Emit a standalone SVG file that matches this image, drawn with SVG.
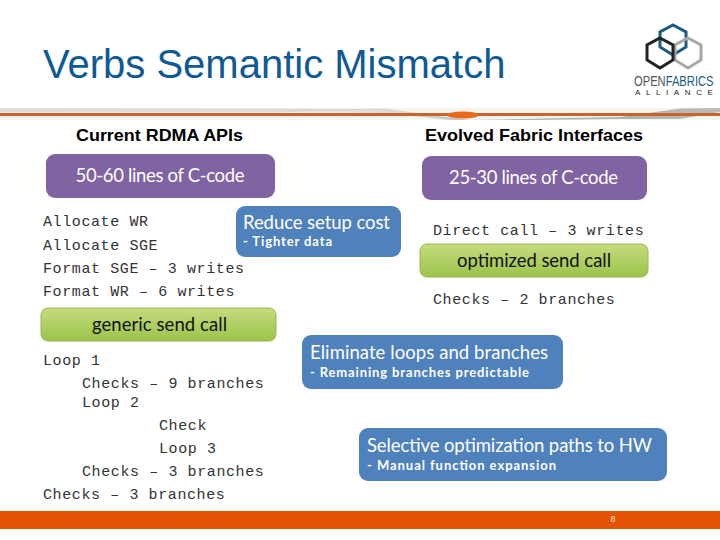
<svg xmlns="http://www.w3.org/2000/svg" width="720" height="540" viewBox="0 0 720 540">
<defs>
<linearGradient id="g" x1="0" y1="0" x2="0" y2="1"><stop offset="0" stop-color="#c4dc7e"/><stop offset="1" stop-color="#9cc34a"/></linearGradient>
<linearGradient id="b" x1="0" y1="0" x2="1" y2="0"><stop offset="0" stop-color="#c8c8c8" stop-opacity="0.1"/><stop offset="0.6" stop-color="#aaa"/><stop offset="1" stop-color="#bbb"/></linearGradient>
</defs>
<style>
.p{fill:#8064a2}.bl{fill:#4f81bd}
.gr{fill:url(#g);stroke:#9ab853;stroke-width:1}
.c{font-family:"Liberation Mono",monospace;font-size:15px;letter-spacing:.6px;fill:#333}
.s{font-family:Lato,"Noto Sans",sans-serif;fill:#fff}
.h{font-family:"Liberation Sans",Arial,sans-serif;font-size:16.500px;font-weight:bold;fill:#000}
.t{font-size:18.500px}.u{font-size:13px;font-weight:700}
.k{font-family:Lato,"Noto Sans",sans-serif;font-size:18.500px;fill:#111}
</style>
<rect width="720" height="540" fill="#fff"/>
<text x="43" y="78" font-family="Liberation Sans,Arial,sans-serif" font-size="40px" fill="#0f5a94">Verbs Semantic Mismatch</text>
<g id="logo" fill="none" stroke-width="3">
<path d="M673 25L686 32V47L673 55L660 47V32Z" stroke="#1d5c80"/>
<path d="M688 38L701 45V60L688 68L675 60V45Z" stroke="#a8a8a8"/>
<path d="M660 38L673 45V60L660 68L647 60V45Z" stroke="#222"/>
<text transform="translate(634 86) scale(.8 1)" font-family="Liberation Sans,sans-serif" font-size="14px" stroke="none" fill="#555">OPEN<tspan fill="#1d5c80">FABRICS</tspan></text>
<text x="635" y="95" font-family="Liberation Sans,sans-serif" font-size="8px" letter-spacing="5.600" stroke="none" fill="#222">ALLIANCE</text>
</g>
<g id="rule">
<rect x="0" y="108" width="720" height="12" fill="#f6f5f0"/>
<path d="M0 108L275 108.500L385 109L275 112.500L0 112.500Z" fill="#dcdcdc"/>
<path d="M275 110L385 108.500L440 116L470 120L620 117L680 108.500L720 108V112L680 119L620 119L520 120L450 120L385 113L275 112.500Z" fill="url(#b)"/>
<path d="M440 108.500H620L640 111L620 113H450Z" fill="#f8f4ee"/>
<rect x="0" y="113" width="720" height="3" fill="#c9632c"/>
<ellipse cx="463" cy="115" rx="16" ry="3.500" fill="#e86a1a"/>
</g>
<rect x="0" y="511" width="720" height="18" fill="#e35205"/>
<text x="613" y="522" font-family="Liberation Sans,sans-serif" font-size="9px" fill="#f4e4d0" text-anchor="middle">8</text>
<text class="h" x="76" y="141" textLength="167" lengthAdjust="spacingAndGlyphs">Current RDMA APIs</text>
<text class="h" x="425" y="141" textLength="218" lengthAdjust="spacingAndGlyphs">Evolved Fabric Interfaces</text>
<g id="n-50"><rect class="p" x="46" y="154" width="229" height="44" rx="9"/><text class="s t" x="75.500" y="182" textLength="169">50-60 lines of C-code</text></g>
<g id="n-25"><rect class="p" x="422" y="156" width="225" height="44" rx="9"/><text class="s t" x="449" y="184" textLength="169">25-30 lines of C-code</text></g>
<g id="n-setup"><rect class="bl" x="236" y="206" width="165" height="51" rx="9"/><text class="s t" x="243" y="229" textLength="147">Reduce setup cost</text><text class="s u" x="243" y="246" textLength="89">- Tighter data</text></g>
<g id="n-generic"><rect class="gr" x="41" y="308" width="235" height="33" rx="7"/><text class="k" x="92" y="331" textLength="135">generic send call</text></g>
<g id="n-opt"><rect class="gr" x="420" y="244" width="228" height="33" rx="7"/><text class="k" x="457" y="267" textLength="154">optimized send call</text></g>
<g id="n-loops"><rect class="bl" x="302" y="335" width="261" height="54" rx="9"/><text class="s t" x="310" y="359" textLength="238">Eliminate loops and branches</text><text class="s u" x="310" y="377" textLength="219">- Remaining branches predictable</text></g>
<g id="n-paths"><rect class="bl" x="359" y="428" width="308" height="53" rx="9"/><text class="s t" x="367" y="452" textLength="285">Selective optimization paths to HW</text><text class="s u" x="367" y="470" textLength="189">- Manual function expansion</text></g>
<g id="code">
<text class="c" x="43" y="226">Allocate WR</text>
<text class="c" x="43" y="250">Allocate SGE</text>
<text class="c" x="43" y="273">Format SGE – 3 writes</text>
<text class="c" x="43" y="296">Format WR – 6 writes</text>
<text class="c" x="433" y="235">Direct call – 3 writes</text>
<text class="c" x="433" y="304">Checks – 2 branches</text>
<text class="c" x="43" y="365">Loop 1</text>
<text class="c" x="82" y="388">Checks – 9 branches</text>
<text class="c" x="82" y="407">Loop 2</text>
<text class="c" x="159" y="430">Check</text>
<text class="c" x="159" y="453">Loop 3</text>
<text class="c" x="82" y="476">Checks – 3 branches</text>
<text class="c" x="43" y="499">Checks – 3 branches</text>
</g>
<g id="connectors"/>
</svg>
